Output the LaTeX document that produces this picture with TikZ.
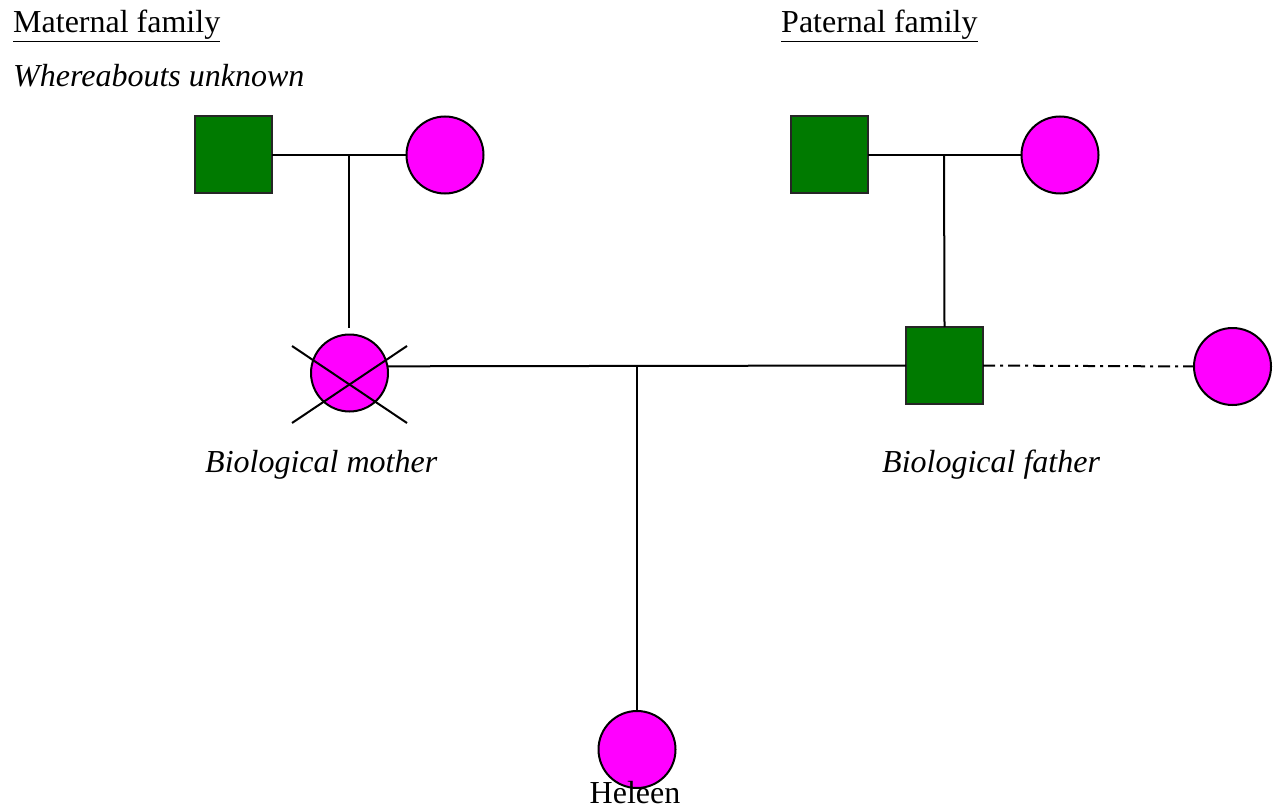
\documentclass[tikz,border=0pt]{standalone}
\usepackage{fontspec}
\setmainfont{Liberation Serif}
\begin{document}
\begin{tikzpicture}[x=1pt,y=-1pt,
  male/.style={draw=black!85,line width=2pt,fill={rgb,255:red,0;green,122;blue,0},minimum size=77pt,inner sep=0pt,outer sep=0pt},
  female/.style={circle,draw=black,line width=2pt,fill={rgb,255:red,255;green,0;blue,255},minimum size=77pt,inner sep=0pt,outer sep=0pt},
  rel/.style={line width=2pt,black},
  lbl/.style={font=\fontsize{32}{38}\selectfont,inner sep=0pt,anchor=base west},
]
\useasboundingbox (0,0) rectangle (1281,810);
% headings
\node[lbl] (hm) at (13,33) {\underline{Maternal family}};
\node[lbl] (hp) at (781,33) {\underline{Paternal family}};
\node[lbl] (wu) at (13,87) {\itshape Whereabouts unknown};
% grandparents
\node[male] (mgf) at (233.5,155) {};
\node[female] (mgm) at (445,155) {};
\node[male] (pgf) at (829,155) {};
\node[female] (pgm) at (1060,155) {};
% parents
\node[female] (mother) at (349.5,373) {};
\node[male] (father) at (944.5,365.5) {};
\node[female] (partner) at (1232.5,366.5) {};
\node[female] (heleen) at (637,749.5) {};
% coordinates
\coordinate (mc) at (349,155);
\coordinate (mtop) at (349,328);
\coordinate (pc) at (944,155);
\coordinate (cc) at (637,366.5);
% connectors
\draw[rel] (mgf.east) -- (mgm.west);
\draw[rel] (mc) -- (mtop);
\draw[rel] (pgf.east) -- (pgm.west);
\draw[rel] (pc) -- (father.north);
\draw[rel] (mother.10) -- (father.west);
\draw[rel] (cc) -- (heleen.north);
\draw[rel,dash pattern=on 12pt off 5pt on 3pt off 5pt] (father.east) -- (partner.west);
% deceased cross
\draw[rel] (292,346) -- (407,423);
\draw[rel] (407,346) -- (292,423);
% labels
\node[lbl] (bm) at (205,472) {\itshape Biological mother};
\node[lbl] (bf) at (882,472) {\itshape Biological father};
\node[lbl,anchor=base] (hn) at (635,803) {Heleen};
\end{tikzpicture}
\end{document}
